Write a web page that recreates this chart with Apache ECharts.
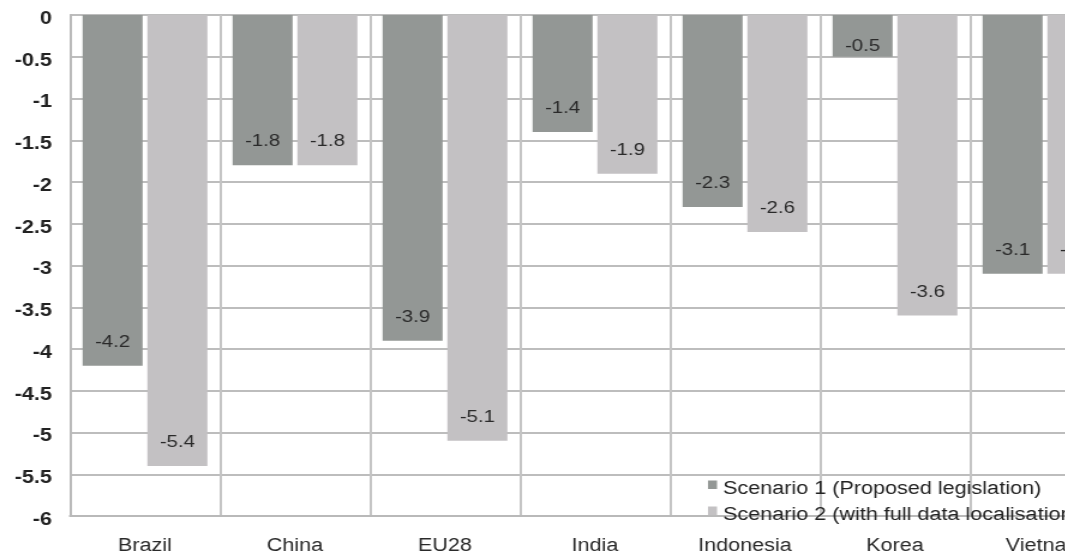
<!DOCTYPE html>
<html>
<head>
<meta charset="utf-8">
<script src="https://cdn.jsdelivr.net/npm/echarts@6/dist/echarts.min.js"></script>
<style>
  html, body { margin: 0; padding: 0; background: #fff; overflow: hidden; width: 1065px; height: 560px; }
  /* the chart is drawn narrow and widened, giving the broad lettering of the original figure */
  #chart { width: 942px; height: 560px; transform: scaleX(1.2); transform-origin: 0 0; }
</style>
</head>
<body>
<div id="chart"></div>
<script>
// Change in GDP (%) by economy under two data-policy scenarios
const categories = ['Brazil', 'China', 'EU28', 'India', 'Indonesia', 'Korea', 'Vietnam'];
const scenario1 = [-4.2, -1.8, -3.9, -1.4, -2.3, -0.5, -3.1];
const scenario2 = [-5.4, -1.8, -5.1, -1.9, -2.6, -3.6, -3.1];
const seriesNames = ['Scenario 1 (Proposed legislation)', 'Scenario 2 (with full data localisation)'];

const FONT = '"Liberation Sans", Arial, sans-serif';

// Short bars keep their label tucked close to the bar end
function barData(values) {
  return values.map(v => ({
    value: v,
    label: Math.abs(v) < 1 ? { distance: 2 } : undefined
  }));
}

// small square sitting at the top of the legend row
const legendIcon = 'path://M0,0H8V9H0ZM0,18H0.01V18Z';

const chart = echarts.init(document.getElementById('chart'), null, { renderer: 'canvas' });
chart.setOption({
  animation: false,
  backgroundColor: '#ffffff',
  textStyle: { fontFamily: FONT },
  grid: { left: 58.3, right: 8.7, top: 15, bottom: 44 },
  legend: {
    orient: 'vertical',
    left: 585,
    top: 475,
    itemGap: 8,
    itemWidth: 7.5,
    itemHeight: 18,
    textStyle: { fontFamily: FONT, fontSize: 18, color: '#222', lineHeight: 18 },
    data: seriesNames.map(name => ({ name, icon: legendIcon }))
  },
  xAxis: {
    type: 'category',
    data: categories,
    position: 'bottom',
    axisLine: { onZero: false, lineStyle: { color: '#b9b9b9', width: 2 } },
    axisTick: { show: false },
    axisLabel: { fontFamily: FONT, fontSize: 18, color: '#2a2a2a', margin: 21 },
    splitLine: { show: true, lineStyle: { color: '#c4c4c4', width: 2 } }
  },
  yAxis: {
    type: 'value',
    min: -6,
    max: 0,
    interval: 0.5,
    axisLine: { show: true, lineStyle: { color: '#b9b9b9', width: 2 } },
    axisTick: { show: false },
    axisLabel: {
      fontFamily: FONT, fontSize: 18, color: '#222', fontWeight: 'bold',
      margin: 15, verticalAlign: 'top', lineHeight: 8
    },
    splitLine: { lineStyle: { color: '#bdbdbd', width: 2 } }
  },
  series: [
    {
      name: seriesNames[0],
      type: 'bar',
      data: barData(scenario1),
      barWidth: 50,
      barGap: '8%',
      itemStyle: { color: '#939795' },
      label: {
        show: true,
        position: 'insideBottom',
        distance: 15,
        fontFamily: FONT,
        fontSize: 17,
        color: '#2a2a2a'
      }
    },
    {
      name: seriesNames[1],
      type: 'bar',
      data: barData(scenario2),
      barWidth: 50,
      itemStyle: { color: '#c3c1c3' },
      label: {
        show: true,
        position: 'insideBottom',
        distance: 15,
        fontFamily: FONT,
        fontSize: 17,
        color: '#2a2a2a'
      }
    }
  ]
});
</script>
</body>
</html>
